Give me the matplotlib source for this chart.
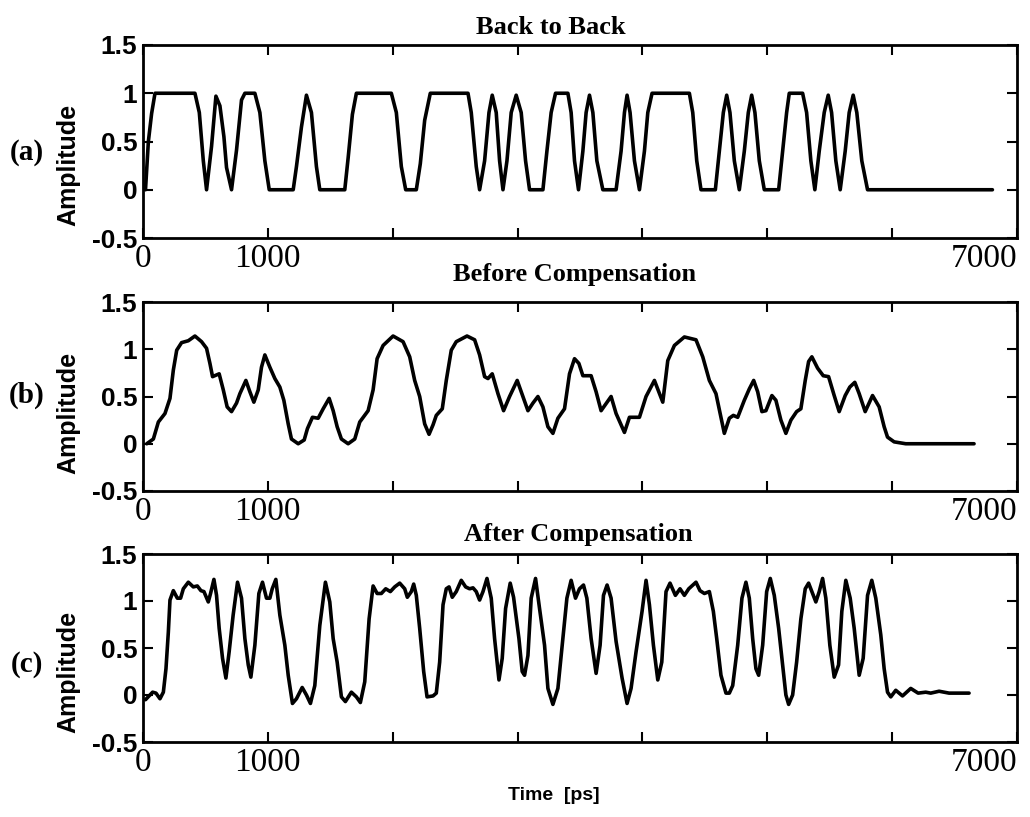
import matplotlib
matplotlib.use("Agg")
import matplotlib.pyplot as plt

# waveform samples, time in ps
t_b2b = [20, 43, 69, 96, 416, 451, 483, 509, 549, 584, 616, 648, 669, 709, 749, 789, 816, 896, 936, 976,
         1011, 1203, 1229, 1269, 1309, 1349, 1389, 1416, 1616, 1643, 1677, 1709, 1989, 2029, 2069, 2104,
         2189, 2221, 2256, 2301, 2603, 2629, 2669, 2696, 2736, 2771, 2797, 2829, 2856, 2883, 2915, 2949,
         2989, 3029, 3064, 3096, 3203, 3235, 3269, 3304, 3403, 3429, 3456, 3488, 3523, 3549, 3576, 3603,
         3635, 3683, 3789, 3829, 3856, 3877, 3901, 3936, 3976, 4016, 4043, 4077, 4376, 4403, 4435, 4469,
         4584, 4616, 4648, 4675, 4701, 4736, 4776, 4816, 4848, 4875, 4901, 4936, 4976, 5091, 5123, 5155,
         5176, 5283, 5315, 5349, 5381, 5416, 5456, 5488, 5515, 5549, 5584, 5624, 5656, 5688, 5717, 5757,
         5803, 6803]
amp_b2b = [0.0, 0.5, 0.79, 1.0, 1.0, 0.8, 0.3, 0.0, 0.45, 0.97, 0.87, 0.55, 0.23, 0.0, 0.41, 0.93, 1.0, 1.0, 0.8, 0.3,
           0.0, 0.0, 0.24, 0.65, 0.98, 0.8, 0.24, 0.0, 0.0, 0.33, 0.78, 1.0, 1.0, 0.8, 0.24, 0.0,
           0.0, 0.27, 0.72, 1.0, 1.0, 0.8, 0.24, 0.0, 0.3, 0.8, 0.98, 0.8, 0.3, 0.0, 0.3, 0.8,
           0.98, 0.8, 0.3, 0.0, 0.0, 0.4, 0.8, 1.0, 1.0, 0.8, 0.3, 0.0, 0.4, 0.8, 0.98, 0.8,
           0.3, 0.0, 0.0, 0.4, 0.8, 0.98, 0.8, 0.3, 0.0, 0.4, 0.8, 1.0, 1.0, 0.8, 0.3, 0.0,
           0.0, 0.4, 0.8, 0.98, 0.8, 0.3, 0.0, 0.4, 0.8, 0.98, 0.8, 0.3, 0.0, 0.0, 0.4, 0.8,
           1.0, 1.0, 0.8, 0.3, 0.0, 0.4, 0.8, 0.98, 0.8, 0.3, 0.0, 0.4, 0.8, 0.98, 0.8, 0.3,
           0.0, 0.0]

t_before = [30, 83, 123, 176, 216, 243, 270, 309, 363, 416, 469, 509, 536, 557, 610, 643, 674, 709, 749, 776,
            824, 856, 888, 923, 949, 976, 1016, 1056, 1096, 1128, 1163, 1189, 1243, 1291, 1317, 1357, 1403,
            1443, 1491, 1523, 1555, 1589, 1643, 1696, 1736, 1803, 1843, 1875, 1923, 2003, 2083, 2136, 2176,
            2216, 2256, 2291, 2323, 2349, 2397, 2429, 2469, 2509, 2595, 2656, 2696, 2736, 2763, 2797, 2843,
            2888, 2936, 2997, 3043, 3083, 3123, 3163, 3203, 3243, 3283, 3323, 3376, 3416, 3456, 3491, 3523,
            3589, 3629, 3669, 3749, 3789, 3856, 3896, 3976, 4029, 4096, 4163, 4203, 4256, 4336, 4429, 4483,
            4536, 4589, 4629, 4656, 4696, 4728, 4763, 4816, 4856, 4891, 4923, 4957, 4989, 5037, 5069, 5109,
            5149, 5189, 5235, 5269, 5304, 5331, 5357, 5403, 5448, 5491, 5536, 5576, 5624, 5661, 5701, 5736,
            5784, 5843, 5896, 5936, 5963, 6016, 6109, 6656]
amp_before = [0.0, 0.05, 0.23, 0.32, 0.48, 0.78, 0.99, 1.07, 1.09, 1.14, 1.08, 1.01, 0.85, 0.71, 0.74, 0.57, 0.39, 0.34, 0.43, 0.53,
              0.67, 0.55, 0.44, 0.57, 0.81, 0.94, 0.81, 0.69, 0.60, 0.46, 0.21, 0.05, 0.0, 0.04, 0.16, 0.28, 0.27,
              0.37, 0.48, 0.35, 0.18, 0.05, 0.0, 0.05, 0.23, 0.35, 0.57, 0.90, 1.04, 1.14, 1.08, 0.92, 0.67,
              0.50, 0.21, 0.10, 0.20, 0.30, 0.37, 0.67, 0.99, 1.08, 1.14, 1.10, 0.94, 0.71, 0.69, 0.74, 0.53,
              0.35, 0.50, 0.67, 0.50, 0.35, 0.43, 0.50, 0.39, 0.18, 0.11, 0.27, 0.37, 0.74, 0.90, 0.85, 0.72,
              0.72, 0.55, 0.35, 0.50, 0.32, 0.12, 0.28, 0.28, 0.50, 0.67, 0.44, 0.88, 1.04, 1.13, 1.10, 0.92,
              0.67, 0.53, 0.28, 0.11, 0.27, 0.30, 0.28, 0.46, 0.58, 0.67, 0.55, 0.34, 0.35, 0.51, 0.46, 0.25,
              0.11, 0.25, 0.34, 0.37, 0.67, 0.87, 0.92, 0.80, 0.72, 0.71, 0.51, 0.34, 0.51, 0.60, 0.65, 0.53,
              0.34, 0.51, 0.39, 0.18, 0.07, 0.02, 0.0, 0.0]

t_after = [20, 77, 104, 136, 163, 184, 203, 216, 243, 275, 301, 323, 363, 403, 435, 464, 488, 523, 541, 568,
           589, 610, 637, 664, 690, 722, 757, 789, 816, 843, 864, 896, 928, 957, 989, 1016, 1035, 1064, 1096,
           1136, 1163, 1197, 1229, 1275, 1309, 1341, 1376, 1416, 1461, 1496, 1523, 1555, 1589, 1621, 1669,
           1709, 1741, 1776, 1811, 1843, 1875, 1909, 1944, 1981, 2016, 2056, 2096, 2117, 2149, 2168, 2189,
           2216, 2248, 2275, 2323, 2349, 2376, 2403, 2429, 2451, 2477, 2509, 2549, 2584, 2616, 2643, 2669,
           2696, 2723, 2755, 2789, 2816, 2851, 2877, 2904, 2941, 2968, 3011, 3037, 3056, 3083, 3109, 3144,
           3176, 3216, 3243, 3283, 3323, 3363, 3395, 3429, 3464, 3496, 3528, 3555, 3589, 3629, 3661, 3688,
           3717, 3749, 3789, 3837, 3877, 3909, 3949, 3997, 4029, 4056, 4088, 4123, 4155, 4189, 4221, 4264,
           4301, 4336, 4371, 4429, 4461, 4496, 4536, 4568, 4595, 4629, 4669, 4696, 4723, 4763, 4797, 4829,
           4856, 4883, 4909, 4931, 4963, 4995, 5024, 5056, 5091, 5123, 5149, 5171, 5203, 5235, 5269, 5304,
           5331, 5357, 5389, 5416, 5443, 5469, 5501, 5536, 5571, 5597, 5629, 5664, 5696, 5736, 5768, 5803,
           5837, 5869, 5909, 5936, 5963, 5989, 6029, 6083, 6149, 6208, 6269, 6309, 6376, 6456, 6616]
amp_after = [-0.05, 0.03, 0.02, -0.04, 0.03, 0.28, 0.67, 1.01, 1.11, 1.03, 1.03, 1.13, 1.20, 1.15, 1.16, 1.11, 1.10, 0.99, 1.08, 1.23,
             1.06, 0.71, 0.39, 0.18, 0.46, 0.85, 1.20, 1.03, 0.60, 0.32, 0.19, 0.53, 1.08, 1.20, 1.03, 1.03, 1.13, 1.23, 0.85,
             0.53, 0.21, -0.09, -0.04, 0.08, 0.0, -0.09, 0.10, 0.74, 1.20, 0.99, 0.60, 0.35, -0.02, -0.07, 0.03,
             -0.02, -0.08, 0.14, 0.81, 1.16, 1.08, 1.08, 1.13, 1.10, 1.15, 1.19, 1.13, 1.04, 1.10, 1.18, 1.06,
             0.71, 0.25, -0.02, -0.01, 0.02, 0.35, 0.96, 1.13, 1.15, 1.04, 1.10, 1.22, 1.15, 1.13, 1.14, 1.10,
             1.01, 1.10, 1.24, 1.03, 0.60, 0.16, 0.39, 0.92, 1.19, 1.04, 0.60, 0.25, 0.21, 0.42, 1.03, 1.24,
             0.92, 0.53, 0.07, -0.10, 0.07, 0.60, 1.03, 1.22, 1.03, 1.13, 1.17, 1.03, 0.60, 0.23, 0.53, 1.06,
             1.17, 1.03, 0.57, 0.18, -0.09, 0.07, 0.46, 0.89, 1.22, 0.96, 0.53, 0.16, 0.35, 1.10, 1.19, 1.06,
             1.13, 1.06, 1.13, 1.20, 1.11, 1.08, 1.10, 0.89, 0.60, 0.21, 0.02, 0.02, 0.10, 0.53, 1.03, 1.20,
             1.03, 0.60, 0.28, 0.21, 0.53, 1.10, 1.24, 1.06, 0.71, 0.32, 0.0, -0.10, 0.0, 0.35, 0.81, 1.13,
             1.19, 1.10, 0.99, 1.10, 1.24, 1.03, 0.53, 0.19, 0.32, 0.89, 1.22, 1.03, 0.71, 0.21, 0.39, 1.06,
             1.22, 1.03, 0.64, 0.28, 0.03, -0.02, 0.05, -0.01, 0.07, 0.02, 0.03, 0.02, 0.04, 0.02, 0.02]

titles = ["Back to Back", "Before Compensation", "After Compensation"]
panel_tags = ["(a)", "(b)", "(c)"]
xticks = [0, 1000, 2000, 3000, 4000, 5000, 6000, 7000]
xticklabels = ["0", "1000", "", "", "", "", "", "7000"]
yticks = [-0.5, 0, 0.5, 1, 1.5]
yticklabels = ["-0.5", "0", "0.5", "1", "1.5"]

SERIF = "Liberation Serif"
SANS = "Liberation Sans"

W, H = 1030, 817
fig = plt.figure(figsize=(W / 100, H / 100), dpi=100)

# axes boxes in pixels: left, top, right, bottom
boxes = [(143, 45, 1017, 238), (143, 302, 1017, 491), (143, 554, 1017, 742)]
title_pos = [(551, 27), (575, 275), (578, 535)]
tag_y = [153, 395, 665]
ylab_y = [165, 413, 672]
series = [(t_b2b, amp_b2b), (t_before, amp_before), (t_after, amp_after)]

for i, (l, t, r, b) in enumerate(boxes):
    ax = fig.add_axes([l / W, 1 - b / H, (r - l) / W, (b - t) / H])
    x, y = series[i]
    ax.plot(x, y, color="black", lw=2.6, solid_joinstyle="round", solid_capstyle="round")
    ax.set_xlim(0, 7000)
    ax.set_ylim(-0.5, 1.5)
    ax.set_xticks(xticks)
    ax.set_xticklabels(xticklabels, fontfamily=SERIF, fontsize=24)
    ax.get_xticklabels()[-1].set_horizontalalignment("right")
    ax.set_yticks(yticks)
    ax.set_yticklabels(yticklabels, fontfamily=SANS, fontsize=19, fontweight="bold")
    ax.tick_params(direction="in", length=7, width=1.5, top=True, right=True)
    ax.tick_params(axis="x", pad=4)
    ax.tick_params(axis="y", pad=4)
    for s in ax.spines.values():
        s.set_linewidth(2.0)

    tx, ty = title_pos[i]
    fig.text(tx / W, 1 - ty / H, titles[i], ha="center", va="center",
             fontfamily=SERIF, fontweight="bold", fontsize=19)
    fig.text(27 / W, 1 - tag_y[i] / H, panel_tags[i], ha="center", va="center",
             fontfamily=SERIF, fontsize=21, fontweight="bold")
    fig.text(68 / W, 1 - ylab_y[i] / H, "Amplitude", ha="center", va="center",
             rotation=90, fontfamily=SANS, fontsize=18, fontweight="bold")

fig.text(554 / W, 1 - 795 / H, "Time  [ps]", ha="center", va="center",
         fontfamily=SANS, fontsize=14, fontweight="bold")

fig.savefig("out.png", dpi=100)
